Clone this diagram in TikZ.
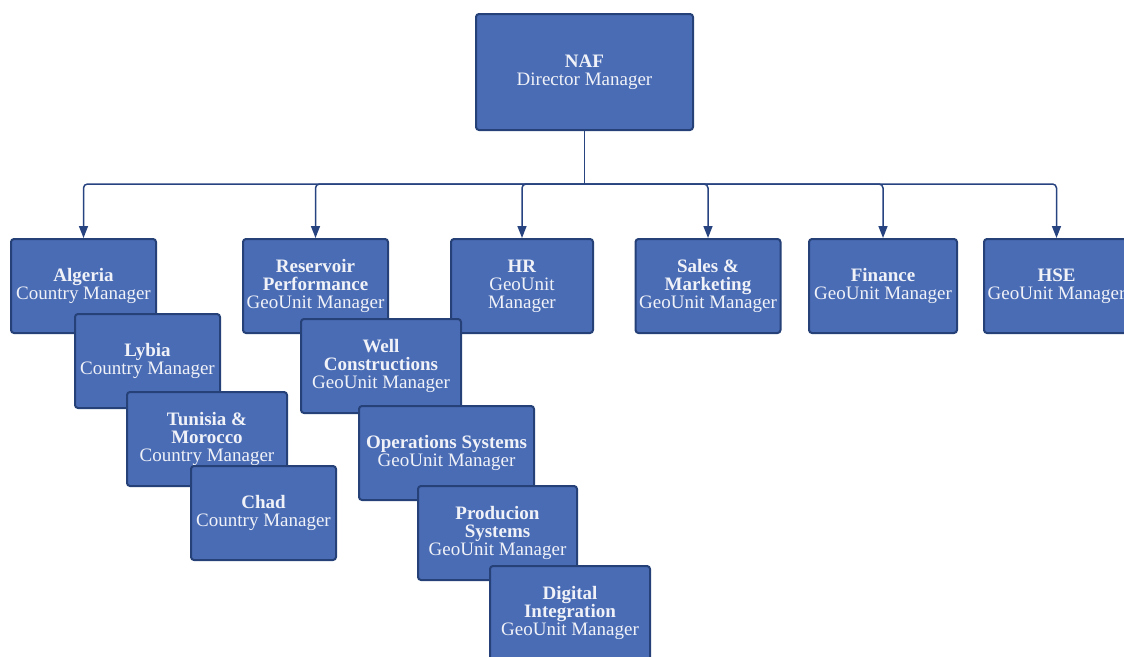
\documentclass[tikz,border=0pt]{standalone}
\usepackage{fontspec}
\setmainfont{Liberation Serif}
\usetikzlibrary{arrows.meta}
\definecolor{boxfill}{RGB}{74,108,181}
\definecolor{boxline}{RGB}{38,64,120}
\definecolor{wire}{RGB}{40,68,128}
\definecolor{ink}{RGB}{240,242,248}
\tikzset{
  unit/.style={draw=boxline, line width=2pt, fill=boxfill, rounded corners=3pt,
    text=ink, align=center, inner sep=1pt,
    font=\fontsize{19}{18}\selectfont},
  wide/.style={unit, minimum width=145pt, minimum height=94pt},
  wider/.style={unit, minimum width=160pt, minimum height=94pt},
  conn/.style={draw=wire, line width=1.5pt, rounded corners=4pt},
  arr/.style={conn, -{Triangle[length=12pt,width=9pt]}},
}
\begin{document}
\begin{tikzpicture}[x=1pt,y=-1pt]
\useasboundingbox (0,0) rectangle (1124,656);
\clip (0,0) rectangle (1124,656);
\fill[white] (0,0) rectangle (1124,656);

% head of the organisation
\node[unit, minimum width=217pt, minimum height=116pt] (naf) at (584.5,72)
  {\textbf{NAF}\\Director Manager};

% first row of units
\node[wide] (alg) at (83.5,286) {\textbf{Algeria}\\Country Manager};
\node[wide] (res) at (315.5,286) {\textbf{Reservoir}\\\textbf{Performance}\\GeoUnit Manager};
\node[unit, minimum width=142pt, minimum height=94pt] (hr) at (522,286) {\textbf{HR}\\GeoUnit\\Manager};
\node[wide] (sal) at (708,286) {\textbf{Sales \&}\\\textbf{Marketing}\\GeoUnit Manager};
\node[unit, minimum width=148pt, minimum height=94pt] (fin) at (883,286) {\textbf{Finance}\\GeoUnit Manager};
\node[wide] (hse) at (1056.5,286) {\textbf{HSE}\\GeoUnit Manager};

% stacked country managers
\node[wide] (lyb) at (147.5,361) {\textbf{Lybia}\\Country Manager};
\node[wider] (tun) at (207,439) {\textbf{Tunisia \&}\\\textbf{Morocco}\\Country Manager};
\node[wide] (chd) at (263.5,513) {\textbf{Chad}\\Country Manager};

% stacked technical units
\node[wider] (wel) at (381,366) {\textbf{Well}\\\textbf{Constructions}\\GeoUnit Manager};
\node[unit, minimum width=175pt, minimum height=94pt] (ops) at (446.5,453) {\textbf{Operations Systems}\\GeoUnit Manager};
\node[unit, minimum width=159pt, minimum height=94pt] (prd) at (497.5,533) {\textbf{Producion}\\\textbf{Systems}\\GeoUnit Manager};
\node[wider] (dig) at (570,613) {\textbf{Digital}\\\textbf{Integration}\\GeoUnit Manager};

% distribution bus
\coordinate (bus) at (584.5,184);
\draw[conn] (naf.south) -- (bus);
\foreach \t in {alg,res,hr,sal,fin,hse}
  \draw[arr] (bus) -| (\t.north);
\end{tikzpicture}
\end{document}
